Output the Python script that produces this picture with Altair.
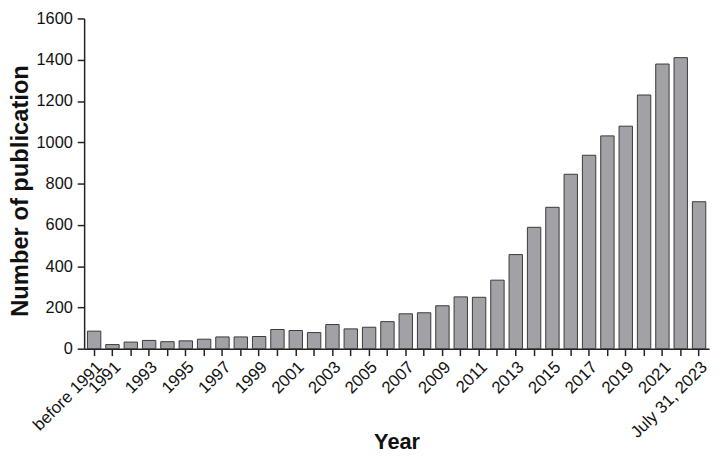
import altair as alt
import pandas as pd

categories = ["before 1991", "1991", "1992", "1993", "1994", "1995", "1996", "1997",
              "1998", "1999", "2000", "2001", "2002", "2003", "2004", "2005", "2006",
              "2007", "2008", "2009", "2010", "2011", "2012", "2013", "2014", "2015",
              "2016", "2017", "2018", "2019", "2020", "2021", "2022", "July 31, 2023"]
publications = [85, 20, 32, 40, 34, 38, 46, 57, 57, 59, 93, 88, 78, 117, 96, 104, 131,
                169, 174, 208, 251, 249, 332, 456, 588, 685, 845, 937, 1031, 1078, 1229,
                1379, 1410, 712]
shown_labels = ["before 1991", "1991", "1993", "1995", "1997", "1999", "2001", "2003",
                "2005", "2007", "2009", "2011", "2013", "2015", "2017", "2019", "2021",
                "July 31, 2023"]
y_ticks = [0, 200, 400, 600, 800, 1000, 1200, 1400, 1600]

df = pd.DataFrame({"Year": categories, "Count": publications})

FONT = "Liberation Sans"
shown_str = "[" + ",".join("'" + s + "'" for s in shown_labels) + "]"

chart = alt.Chart(df).mark_bar(
    color="#a2a2a6", stroke="#3a3a3a", strokeWidth=1
).encode(
    x=alt.X("Year:N", sort=categories,
            scale=alt.Scale(paddingInner=0.27, paddingOuter=0.18),
            axis=alt.Axis(title="Year", labelAngle=-45,
                          labelExpr="indexof(" + shown_str + ", datum.value) >= 0 ? datum.label : ''",
                          labelFont=FONT, labelFontSize=17, labelColor="#111",
                          labelPadding=3, tickSize=7, tickColor="#222", tickWidth=1.5,
                          domainColor="#222", domainWidth=1.5,
                          titleFont=FONT, titleFontSize=22, titleFontWeight="bold",
                          titleColor="#111", titleBaseline="alphabetic", titleY=101)),
    y=alt.Y("Count:Q", scale=alt.Scale(domain=[0, 1600], nice=False),
            axis=alt.Axis(title="Number of publication", values=y_ticks, grid=False,
                          format="d",
                          labelFont=FONT, labelFontSize=16.5, labelColor="#111",
                          labelPadding=5, tickSize=7, tickColor="#222", tickWidth=1.5,
                          domainColor="#222", domainWidth=1.5,
                          titleFont=FONT, titleFontSize=24, titleFontWeight="bold",
                          titleColor="#111", titleAngle=270, titleAlign="center",
                          titleBaseline="alphabetic", titleX=-57, titleY=174)),
).properties(
    width=632, height=334,
    autosize=alt.AutoSizeParams(type="none"),
    padding={"left": 77, "top": 8, "right": 6, "bottom": 108},
).configure_view(stroke=None)

chart.save("out.html", embed_options={"renderer": "svg", "actions": False})
